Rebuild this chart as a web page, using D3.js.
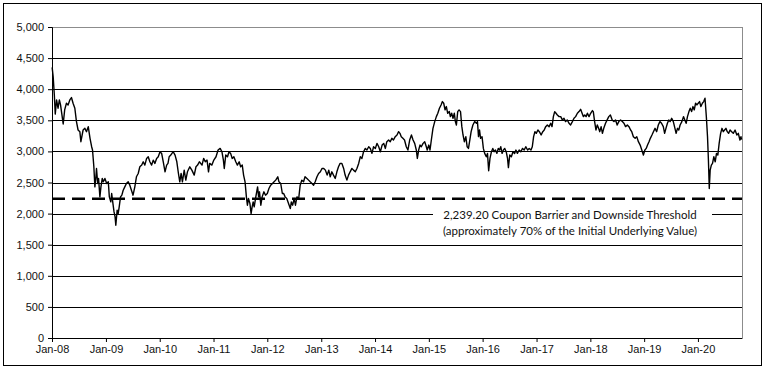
<!DOCTYPE html>
<html>
<head>
<meta charset="utf-8">
<script src="https://cdn.jsdelivr.net/npm/d3@7"></script>
<style>
  body { margin: 0; background: #fff; }
  .axis text { font-family: "Liberation Sans", Arial, sans-serif; font-size: 11px; fill: #111; }
</style>
</head>
<body>
<div id="chart"></div>
<script>
// index level, roughly every 10 days
const dates = [
  "2008-01-02","2008-01-09","2008-01-17","2008-01-23","2008-02-01","2008-02-11","2008-02-20","2008-02-28",
  "2008-03-17","2008-03-27","2008-04-08","2008-04-19","2008-05-01","2008-05-12","2008-05-23","2008-06-04",
  "2008-06-15","2008-06-26","2008-07-08","2008-07-15","2008-07-30","2008-08-11","2008-08-22","2008-09-03",
  "2008-09-15","2008-09-26","2008-10-02","2008-10-11","2008-10-18","2008-10-25","2008-10-29","2008-11-06",
  "2008-11-12","2008-11-21","2008-11-28","2008-12-07","2008-12-14","2008-12-25","2009-01-06","2009-01-17",
  "2009-01-24","2009-02-03","2009-02-09","2009-02-16","2009-02-25","2009-03-04","2009-03-09","2009-03-18",
  "2009-03-25","2009-04-01","2009-04-10","2009-04-19","2009-04-28","2009-05-09","2009-05-20","2009-06-01",
  "2009-06-12","2009-06-23","2009-07-04","2009-07-16","2009-07-27","2009-08-08","2009-08-19","2009-09-01",
  "2009-09-11","2009-09-22","2009-10-04","2009-10-15","2009-10-26","2009-11-07","2009-11-18","2009-11-29",
  "2009-12-11","2009-12-22","2010-01-03","2010-01-14","2010-01-25","2010-02-06","2010-02-17","2010-02-26",
  "2010-03-06","2010-03-17","2010-04-02","2010-04-15","2010-04-27","2010-05-08","2010-05-17","2010-05-26",
  "2010-06-04","2010-06-16","2010-06-27","2010-07-08","2010-07-24","2010-08-07","2010-08-23","2010-09-04",
  "2010-09-15","2010-09-27","2010-10-15","2010-10-26","2010-11-06","2010-11-18","2010-11-28","2010-12-06",
  "2010-12-21","2011-01-03","2011-01-18","2011-02-01","2011-02-15","2011-02-27","2011-03-09","2011-03-15",
  "2011-03-25","2011-04-06","2011-04-16","2011-04-27","2011-05-08","2011-05-19","2011-06-01","2011-06-12",
  "2011-06-24","2011-07-04","2011-07-15","2011-07-24","2011-08-03","2011-08-12","2011-08-19","2011-08-26",
  "2011-09-05","2011-09-13","2011-09-20","2011-09-27","2011-10-04","2011-10-15","2011-10-27","2011-11-03",
  "2011-11-09","2011-11-18","2011-11-27","2011-12-09","2011-12-20","2012-01-01","2012-01-12","2012-01-24",
  "2012-02-05","2012-02-16","2012-02-27","2012-03-12","2012-03-20","2012-04-01","2012-04-12","2012-04-21",
  "2012-05-01","2012-05-12","2012-05-24","2012-06-05","2012-06-12","2012-06-21","2012-07-01","2012-07-10",
  "2012-07-20","2012-08-01","2012-08-11","2012-08-22","2012-09-03","2012-09-13","2012-09-26","2012-10-07",
  "2012-10-18","2012-10-30","2012-11-10","2012-11-21","2012-12-03","2012-12-14","2012-12-26","2013-01-06",
  "2013-01-18","2013-01-29","2013-02-10","2013-02-21","2013-03-03","2013-03-14","2013-03-25","2013-04-06",
  "2013-04-17","2013-04-28","2013-05-09","2013-05-21","2013-06-02","2013-06-12","2013-06-24","2013-07-05",
  "2013-07-16","2013-07-28","2013-08-08","2013-08-20","2013-08-31","2013-09-12","2013-09-23","2013-10-04",
  "2013-10-15","2013-10-27","2013-11-07","2013-11-19","2013-11-30","2013-12-11","2013-12-22","2014-01-03",
  "2014-01-14","2014-01-26","2014-02-06","2014-02-18","2014-03-01","2014-03-12","2014-03-22","2014-04-03",
  "2014-04-14","2014-04-25","2014-05-06","2014-05-18","2014-05-30","2014-06-10","2014-06-19","2014-06-28",
  "2014-07-09","2014-07-20","2014-08-01","2014-08-12","2014-08-24","2014-09-05","2014-09-16","2014-09-27",
  "2014-10-08","2014-10-15","2014-10-24","2014-11-02","2014-11-11","2014-11-23","2014-12-04","2014-12-15",
  "2014-12-21","2015-01-01","2015-01-09","2015-01-18","2015-01-29","2015-02-10","2015-02-21","2015-03-03",
  "2015-03-14","2015-03-25","2015-04-03","2015-04-12","2015-04-21","2015-04-30","2015-05-09","2015-05-20",
  "2015-05-27","2015-06-05","2015-06-14","2015-06-23","2015-06-30","2015-07-07","2015-07-16","2015-07-25",
  "2015-08-04","2015-08-13","2015-08-21","2015-08-30","2015-09-09","2015-09-18","2015-09-27","2015-10-06",
  "2015-10-15","2015-10-27","2015-11-08","2015-11-20","2015-11-27","2015-12-04","2015-12-11","2015-12-18",
  "2015-12-28","2016-01-06","2016-01-15","2016-01-26","2016-02-03","2016-02-11","2016-02-20","2016-03-01",
  "2016-03-10","2016-03-19","2016-03-28","2016-04-07","2016-04-16","2016-04-25","2016-05-03","2016-05-12",
  "2016-05-21","2016-05-30","2016-06-09","2016-06-18","2016-06-24","2016-07-03","2016-07-14","2016-07-25",
  "2016-08-05","2016-08-14","2016-08-24","2016-09-05","2016-09-16","2016-09-28","2016-10-09","2016-10-20",
  "2016-11-01","2016-11-12","2016-11-24","2016-12-03","2016-12-12","2016-12-21","2016-12-30","2017-01-10",
  "2017-01-20","2017-02-01","2017-02-12","2017-02-22","2017-03-04","2017-03-15","2017-03-27","2017-04-07",
  "2017-04-16","2017-04-25","2017-05-04","2017-05-13","2017-05-22","2017-06-03","2017-06-14","2017-06-25",
  "2017-07-06","2017-07-17","2017-07-28","2017-08-09","2017-08-20","2017-09-01","2017-09-12","2017-09-23",
  "2017-10-05","2017-10-16","2017-10-27","2017-11-06","2017-11-15","2017-11-24","2017-12-03","2017-12-12",
  "2017-12-23","2018-01-03","2018-01-15","2018-01-21","2018-01-30","2018-02-08","2018-02-17","2018-02-26",
  "2018-03-06","2018-03-15","2018-03-24","2018-04-02","2018-04-14","2018-04-25","2018-05-06","2018-05-17",
  "2018-05-29","2018-06-10","2018-06-21","2018-07-02","2018-07-13","2018-07-25","2018-08-06","2018-08-17",
  "2018-08-28","2018-09-09","2018-09-20","2018-10-01","2018-10-09","2018-10-20","2018-11-01","2018-11-12",
  "2018-11-23","2018-12-05","2018-12-16","2018-12-27","2019-01-06","2019-01-15","2019-01-24","2019-02-03",
  "2019-02-12","2019-02-23","2019-03-05","2019-03-16","2019-03-27","2019-04-07","2019-04-18","2019-04-29",
  "2019-05-11","2019-05-20","2019-05-29","2019-06-08","2019-06-17","2019-06-26","2019-07-07","2019-07-18",
  "2019-07-29","2019-08-06","2019-08-15","2019-08-24","2019-09-02","2019-09-14","2019-09-25","2019-10-04",
  "2019-10-13","2019-10-22","2019-11-01","2019-11-10","2019-11-19","2019-11-28","2019-12-07","2019-12-16",
  "2019-12-25","2020-01-03","2020-01-12","2020-01-21","2020-01-31","2020-02-09","2020-02-18","2020-02-27",
  "2020-03-06","2020-03-12","2020-03-18","2020-03-24","2020-04-01","2020-04-09","2020-04-18","2020-04-27",
  "2020-05-06","2020-05-15","2020-05-24","2020-06-03","2020-06-12","2020-06-21","2020-06-30","2020-07-09",
  "2020-07-18","2020-07-27","2020-08-06","2020-08-17","2020-08-28","2020-09-09","2020-09-21","2020-10-01",
  "2020-10-12","2020-10-19","2020-10-23"
];
const values = [
  4350,4200,3900,3600,3828,3694,3828,3747,
  3441,3667,3774,3747,3828,3866,3774,3694,
  3479,3344,3317,3156,3344,3371,3317,3398,
  3210,3075,3022,2753,2430,2592,2726,2484,
  2565,2269,2430,2565,2511,2565,2484,2511,
  2269,2188,2323,2188,2027,1946,1812,2054,
  2000,2108,2269,2296,2376,2430,2484,2511,
  2457,2376,2296,2430,2592,2645,2753,2780,
  2833,2780,2887,2914,2833,2780,2860,2807,
  2887,2914,2995,2968,2833,2672,2780,2807,
  2914,2941,2995,2941,2833,2645,2511,2645,
  2511,2699,2538,2672,2753,2699,2619,2753,
  2780,2833,2780,2887,2833,2860,2672,2807,
  2780,2860,2914,3022,3048,2995,2860,2726,
  2941,2914,2995,2968,2887,2914,2833,2780,
  2833,2753,2780,2619,2511,2269,2135,2242,
  2162,2000,2108,2188,2108,2269,2430,2269,
  2350,2135,2269,2350,2296,2323,2403,2457,
  2484,2511,2538,2592,2511,2484,2323,2323,
  2269,2242,2162,2081,2188,2135,2242,2135,
  2269,2242,2457,2538,2511,2592,2565,2538,
  2511,2484,2457,2511,2592,2645,2672,2726,
  2726,2699,2619,2699,2592,2672,2619,2565,
  2672,2753,2807,2807,2726,2619,2538,2619,
  2672,2726,2699,2672,2726,2807,2914,2887,
  2995,3048,3022,3075,3048,2968,3075,3048,
  3129,3075,2995,3102,3129,3048,3156,3183,
  3156,3210,3183,3237,3264,3317,3290,3237,
  3210,3183,3075,3022,3183,3264,3183,3129,
  3022,2887,3022,3102,3075,3129,3156,3075,
  3022,3102,3022,3183,3371,3479,3559,3613,
  3694,3747,3801,3774,3667,3721,3613,3640,
  3559,3613,3532,3613,3479,3425,3640,3667,
  3640,3398,3264,3156,3237,3075,3048,3183,
  3317,3425,3479,3452,3479,3237,3344,3210,
  3237,3048,2968,2914,2968,2690,2887,2995,
  3048,2995,3022,2968,3048,3022,3075,2968,
  3022,3048,2995,2887,2740,2941,2914,2995,
  2968,3022,2968,3022,2995,3048,3022,3075,
  3022,3048,3022,3075,3237,3317,3290,3344,
  3317,3264,3317,3344,3398,3425,3398,3452,
  3398,3559,3640,3613,3586,3559,3559,3506,
  3532,3479,3506,3452,3425,3479,3532,3559,
  3613,3640,3677,3613,3559,3586,3559,3613,
  3559,3613,3656,3640,3479,3344,3425,3371,
  3317,3398,3290,3371,3452,3506,3559,3586,
  3506,3479,3506,3425,3479,3506,3479,3452,
  3398,3425,3398,3344,3317,3237,3210,3237,
  3156,3102,3022,2941,3022,3048,3102,3156,
  3210,3264,3317,3371,3317,3425,3479,3452,
  3398,3290,3371,3452,3506,3479,3532,3479,
  3371,3290,3371,3344,3425,3479,3559,3506,
  3452,3559,3640,3694,3640,3721,3667,3774,
  3747,3774,3801,3721,3774,3801,3855,3559,
  3237,2871,2403,2699,2780,2807,2914,2833,
  2968,2941,3129,3290,3371,3317,3344,3371,
  3317,3290,3344,3317,3290,3344,3264,3290,
  3183,3237,3190
];
const yTicks = [0, 500, 1000, 1500, 2000, 2500, 3000, 3500, 4000, 4500, 5000];
const xTickYears = [2008, 2009, 2010, 2011, 2012, 2013, 2014, 2015, 2016, 2017, 2018, 2019, 2020];
const barrier = 2239.20;
const noteLines = [
  "2,239.20 Coupon Barrier and Downside Threshold",
  "(approximately 70% of the Initial Underlying Value)"
];

const width = 767, height = 369;
const margin = {top: 27, right: 25, bottom: 31, left: 52};
const plotW = width - margin.left - margin.right;
const plotH = height - margin.top - margin.bottom;

const parse = d3.timeParse("%Y-%m-%d");
const data = dates.map(function(d, i) { return {date: parse(d), value: values[i]}; });

const svg = d3.select("#chart").append("svg")
    .attr("width", width)
    .attr("height", height);

// outer frame
svg.append("rect")
    .attr("x", 3.5).attr("y", 3.5)
    .attr("width", 758).attr("height", 362)
    .attr("fill", "none").attr("stroke", "#000").attr("stroke-width", 1);

const g = svg.append("g")
    .attr("transform", `translate(${margin.left}, ${margin.top})`);

const x = d3.scaleTime()
    .domain([new Date(2008, 0, 1), new Date(2020, 9, 26)])
    .range([0, plotW]);

const y = d3.scaleLinear()
    .domain([0, 5000])
    .range([plotH, 0]);

// plot area border (grey)
g.append("rect")
    .attr("x", 0.5).attr("y", y(5000) + 0.5)
    .attr("width", plotW).attr("height", plotH)
    .attr("fill", "none").attr("stroke", "#8c8c8c");

// gridlines
g.append("g").selectAll("line")
    .data(yTicks.filter(function(t) { return t > 0 && t < 5000; }))
    .enter().append("line")
    .attr("x1", 0).attr("x2", plotW)
    .attr("y1", function(d) { return Math.round(y(d)) + 0.5; })
    .attr("y2", function(d) { return Math.round(y(d)) + 0.5; })
    .attr("stroke", "#000").attr("stroke-width", 1);

// white box behind the note
g.append("rect")
    .attr("x", 433 - margin.left).attr("y", 206 - margin.top)
    .attr("width", 279).attr("height", 34)
    .attr("fill", "#fff");

// index line
const line = d3.line()
    .x(function(d) { return x(d.date); })
    .y(function(d) { return y(d.value); });

g.append("path")
    .datum(data)
    .attr("d", line)
    .attr("fill", "none")
    .attr("stroke", "#000")
    .attr("stroke-width", 1.4)
    .attr("stroke-linejoin", "round");

// barrier
g.append("line")
    .attr("x1", 0).attr("x2", plotW)
    .attr("y1", y(barrier)).attr("y2", y(barrier))
    .attr("stroke", "#000")
    .attr("stroke-width", 2.5)
    .attr("stroke-dasharray", "13,7");

// note
const note = g.append("text")
    .attr("x", 570 - margin.left)
    .attr("y", 219 - margin.top)
    .attr("text-anchor", "middle")
    .style("font-family", "Lato, 'Open Sans', sans-serif")
    .style("font-size", "11.5px")
    .style("fill", "#111");
note.selectAll("tspan").data(noteLines).enter().append("tspan")
    .attr("x", 570 - margin.left)
    .attr("dy", function(d, i) { return i === 0 ? 0 : 16; })
    .text(function(d) { return d; });

// axes
const yAxis = g.append("g")
    .attr("class", "axis")
    .call(d3.axisLeft(y).tickValues(yTicks).tickFormat(d3.format(",")).tickSize(4).tickPadding(4));
yAxis.select(".domain").attr("stroke", "#000");

const xAxis = g.append("g")
    .attr("class", "axis")
    .attr("transform", `translate(0, ${plotH})`)
    .call(d3.axisBottom(x)
        .tickValues(xTickYears.map(function(yr) { return new Date(yr, 0, 1); }))
        .tickFormat(d3.timeFormat("%b-%y"))
        .tickSize(4).tickPadding(3));
xAxis.select(".domain").attr("d", `M0.5,0.5H${plotW}`).attr("stroke", "#000");
</script>
</body>
</html>
